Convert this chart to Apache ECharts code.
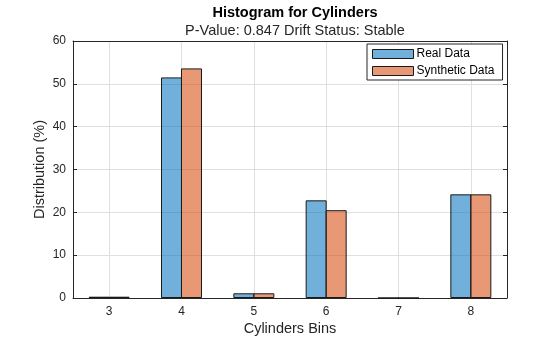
<!DOCTYPE html>
<html>
<head>
<meta charset="utf-8">
<script src="https://cdn.jsdelivr.net/npm/echarts@6/dist/echarts.min.js"></script>
<style>
  html, body { margin: 0; padding: 0; background: #fff; }
  #chart { width: 560px; height: 337px; }
</style>
</head>
<body>
<div id="chart"></div>
<script>
  // 数据
  var categories = ['3', '4', '5', '6', '7', '8'];
  var realData = [0.3, 51.5, 1.1, 22.8, 0, 24.2];
  var syntheticData = [0.3, 53.6, 1.1, 20.5, 0, 24.2];
  var yTicks = { min: 0, max: 60, interval: 10 };

  var font = '"Liberation Sans", Arial, sans-serif';
  var ink = '#262626';

  var chart = echarts.init(document.getElementById('chart'));
  var option = {
    animation: false,
    textStyle: { fontFamily: font },
    title: [
      {
        text: 'Histogram for Cylinders',
        left: 290, top: 0, textAlign: 'center',
        textStyle: { fontFamily: font, fontSize: 14.5, fontWeight: 'bold', color: '#000' }
      },
      {
        text: 'P-Value: 0.847 Drift Status: Stable',
        left: 290, top: 18, textAlign: 'center',
        textStyle: { fontFamily: font, fontSize: 14.5, fontWeight: 'normal', color: ink }
      }
    ],
    legend: {
      orient: 'vertical',
      left: 367, top: 44,
      data: ['Real Data', 'Synthetic Data'],
      icon: 'rect',
      itemWidth: 41, itemHeight: 9, itemGap: 5,
      padding: [4, 8, 3, 5],
      borderColor: ink, borderWidth: 1, backgroundColor: '#fff',
      itemStyle: { borderWidth: 1, borderColor: '#1a1a1a' },
      textStyle: { fontFamily: font, fontSize: 12, color: '#000', padding: [0, 0, 0, -2] }
    },
    grid: { left: 73, right: 53, top: 41, bottom: 39, outerBoundsMode: 'none' },
    xAxis: [
      {
        type: 'category',
        data: categories,
        name: 'Cylinders Bins',
        nameLocation: 'middle',
        nameGap: 23,
        nameMoveOverlap: false,
        nameTextStyle: { fontFamily: font, fontSize: 14.5, color: ink },
        axisLine: { lineStyle: { color: ink } },
        axisTick: { inside: true, alignWithLabel: true, length: 4, lineStyle: { color: ink } },
        axisLabel: { fontFamily: font, fontSize: 12, color: ink, margin: 8 },
        splitLine: { show: true, alignWithLabel: true, lineStyle: { color: '#dfdfdf', width: 1 } }
      },
      {
        type: 'category',
        data: categories,
        position: 'top',
        axisLine: { onZero: false, lineStyle: { color: ink } },
        axisTick: { inside: true, alignWithLabel: true, length: 4, lineStyle: { color: ink } },
        axisLabel: { show: false },
        splitLine: { show: false }
      }
    ],
    yAxis: [
      {
        type: 'value',
        min: yTicks.min, max: yTicks.max, interval: yTicks.interval,
        name: 'Distribution (%)',
        nameLocation: 'middle',
        nameGap: 26,
        nameMoveOverlap: false,
        nameTextStyle: { fontFamily: font, fontSize: 14.5, color: ink },
        axisLine: { show: true, lineStyle: { color: ink } },
        axisTick: { show: true, inside: true, length: 4, lineStyle: { color: ink } },
        axisLabel: { fontFamily: font, fontSize: 12, color: ink, margin: 7 },
        splitLine: { show: true, lineStyle: { color: '#dfdfdf', width: 1 } }
      },
      {
        type: 'value',
        position: 'right',
        min: yTicks.min, max: yTicks.max, interval: yTicks.interval,
        axisLine: { show: true, onZero: false, lineStyle: { color: ink } },
        axisTick: { show: true, inside: true, length: 4, lineStyle: { color: ink } },
        axisLabel: { show: false },
        splitLine: { show: false }
      }
    ],
    series: [
      {
        name: 'Real Data',
        type: 'bar',
        data: realData,
        barWidth: 21,
        barGap: '-4.8%',
        itemStyle: { color: 'rgba(0,114,189,0.56)', borderColor: '#1a1a1a', borderWidth: 1 }
      },
      {
        name: 'Synthetic Data',
        type: 'bar',
        data: syntheticData,
        barWidth: 21,
        barGap: '-4.8%',
        itemStyle: { color: 'rgba(217,83,25,0.6)', borderColor: '#1a1a1a', borderWidth: 1 }
      }
    ]
  };
  chart.setOption(option);
</script>
</body>
</html>
